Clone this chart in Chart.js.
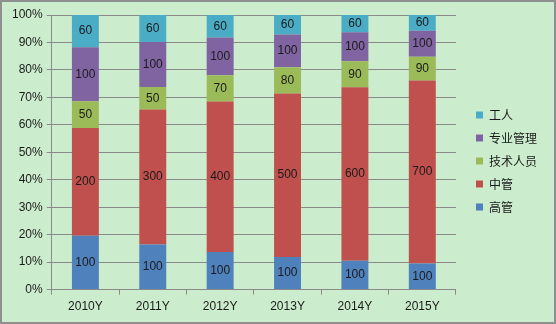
<!DOCTYPE html>
<html>
<head>
<meta charset="utf-8">
<script src="https://cdn.jsdelivr.net/npm/chart.js@4"></script>
<style>
  html, body { margin: 0; padding: 0; background: #fff; }
  #wrap {
    width: 556px; height: 324px; box-sizing: border-box;
    border: 2px solid #8f8f8f; background: #cbedcd;
  }
</style>
</head>
<body>
<div id="wrap"><canvas id="chart" width="552" height="320"></canvas></div>
<script>
const years = ["2010Y", "2011Y", "2012Y", "2013Y", "2014Y", "2015Y"];
const gaoguan = [100, 100, 100, 100, 100, 100];
const zhongguan = [200, 300, 400, 500, 600, 700];
const jishu = [50, 50, 70, 80, 90, 90];
const zhuanye = [100, 100, 100, 100, 100, 100];
const gongren = [60, 60, 60, 60, 60, 60];
const yTicks = [0, 10, 20, 30, 40, 50, 60, 70, 80, 90, 100];

const series = [
  { label: "高管", values: gaoguan, color: "#4f81bd" },
  { label: "中管", values: zhongguan, color: "#c0504d" },
  { label: "技术人员", values: jishu, color: "#9bbb59" },
  { label: "专业管理", values: zhuanye, color: "#8064a2" },
  { label: "工人", values: gongren, color: "#4bacc6" },
];

// column totals, used to turn counts into shares of 100%
const totals = years.map((_, i) => series.reduce((s, d) => s + d.values[i], 0));

// prints the raw count in the middle of each segment
const valueLabels = {
  id: "valueLabels",
  afterDatasetsDraw(chart) {
    const ctx = chart.ctx;
    ctx.save();
    ctx.font = "12px 'Liberation Sans', Arial, sans-serif";
    ctx.fillStyle = "#1a1a1a";
    ctx.textAlign = "center";
    ctx.textBaseline = "middle";
    chart.data.datasets.forEach((ds, di) => {
      chart.getDatasetMeta(di).data.forEach((bar, i) => {
        const y = (bar.y + bar.base) / 2;
        ctx.fillText(String(ds.raw[i]), bar.x, y);
      });
    });
    ctx.restore();
  }
};

// push the legend a little further right and up, away from the plot
const legendShift = {
  id: "legendShift",
  afterLayout(chart) {
    const lg = chart.legend;
    lg.left += 9;
    lg.right += 9;
    lg.top -= 6;
    lg.bottom -= 6;
  }
};

new Chart(document.getElementById("chart"), {
  type: "bar",
  data: {
    labels: years,
    datasets: series.map(s => ({
      label: s.label,
      raw: s.values,
      data: s.values.map((v, i) => v / totals[i] * 100),
      backgroundColor: s.color,
      borderWidth: 0,
      barPercentage: 0.4,
      categoryPercentage: 1.0,
    })),
  },
  options: {
    responsive: false,
    animation: false,
    layout: { padding: { top: 13, left: 6, right: 16, bottom: 3 } },
    plugins: {
      legend: {
        position: "right",
        reverse: true,
        labels: {
          boxWidth: 7,
          boxHeight: 7,
          padding: 11,
          color: "#1a1a1a",
          font: { family: "'Noto Sans CJK SC', sans-serif", size: 12 },
        },
      },
      tooltip: { enabled: false },
    },
    scales: {
      x: {
        stacked: true,
        grid: { drawOnChartArea: false, drawTicks: true, tickLength: 5, color: "#8a8a8a" },
        border: { color: "#8a8a8a" },
        ticks: { color: "#1a1a1a", padding: 5, font: { family: "'Liberation Sans', Arial, sans-serif", size: 12 } },
      },
      y: {
        stacked: true,
        min: 0,
        max: 100,
        afterBuildTicks: axis => { axis.ticks = yTicks.map(v => ({ value: v })); },
        grid: { color: "#8a8a8a", tickLength: 5 },
        border: { color: "#8a8a8a" },
        ticks: {
          color: "#1a1a1a",
          padding: 4,
          font: { family: "'Liberation Sans', Arial, sans-serif", size: 12 },
          callback: v => v + "%",
        },
      },
    },
  },
  plugins: [valueLabels, legendShift],
});
</script>
</body>
</html>
